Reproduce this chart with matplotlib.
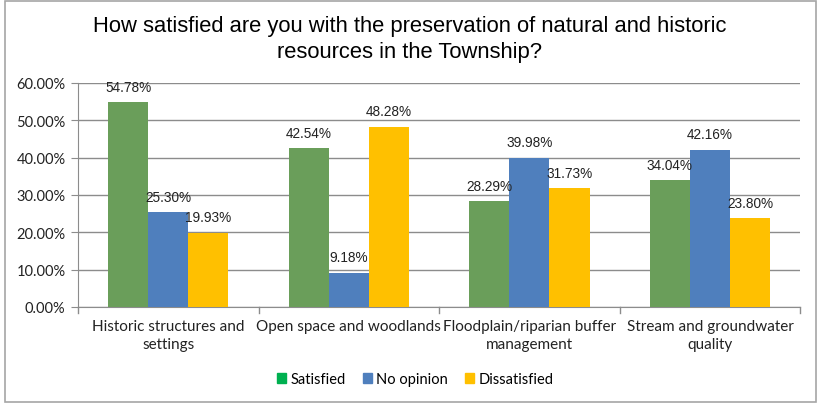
import numpy as np
import matplotlib.pyplot as plt
from matplotlib.patches import Rectangle

categories = ["Historic structures and\nsettings", "Open space and woodlands",
              "Floodplain/riparian buffer\nmanagement", "Stream and groundwater\nquality"]
satisfied = [54.78, 42.54, 28.29, 34.04]
no_opinion = [25.30, 9.18, 39.98, 42.16]
dissatisfied = [19.93, 48.28, 31.73, 23.80]
yticks = [0, 10, 20, 30, 40, 50, 60]

bar_colors = ["#6A9E5A", "#4F7FBD", "#FFC000"]
legend_colors = ["#00B050", "#4F7FBD", "#FFC000"]
names = ["Satisfied", "No opinion", "Dissatisfied"]

fig = plt.figure(figsize=(8.19, 4.06), dpi=100)
ax = fig.add_axes([0.0952, 0.2414, 0.882, 0.552])

# gray frame round the whole chart
fig.patches.append(Rectangle((0.006, 0.008), 0.990, 0.986, transform=fig.transFigure,
                             fill=False, edgecolor="#A6A6A6", linewidth=1.2))

x = np.arange(len(categories))
w = 0.222
for k, vals in enumerate([satisfied, no_opinion, dissatisfied]):
    pos = x + (k - 1) * w
    ax.bar(pos, vals, width=w, color=bar_colors[k], zorder=3)
    for px, v in zip(pos, vals):
        ax.text(px, v + 2.2, "%.2f%%" % v, ha="center", va="bottom",
                fontsize=9.8, family="Liberation Sans", color="#222222", zorder=4)

ax.set_xlim(-0.5, len(categories) - 0.5)
ax.set_ylim(0, 60)
ax.set_yticks(yticks)
ax.set_yticklabels(["%.2f%%" % t for t in yticks], family="Lato", fontsize=10.5, color="#222222")
ax.yaxis.grid(True, color="#8C8C8C", linewidth=1.0, zorder=0)
ax.tick_params(axis="y", length=5, color="#8C8C8C", pad=4)

# category labels centred, tick marks between groups
ax.set_xticks(x)
ax.set_xticklabels(categories, family="Lato", fontsize=11, color="#222222", linespacing=1.35)
ax.tick_params(axis="x", length=0, pad=9)
for b in np.arange(-0.5, len(categories), 1.0):
    ax.plot([b, b], [0, -1.6], color="#8C8C8C", linewidth=1.0, clip_on=False)

for s in ["top", "right"]:
    ax.spines[s].set_visible(False)
ax.spines["left"].set_color("#8C8C8C")
ax.spines["bottom"].set_color("#8C8C8C")

fig.text(0.5, 0.902, "How satisfied are you with the preservation of natural and historic\nresources in the Township?",
         ha="center", va="center", fontsize=15.8, family="Liberation Sans", linespacing=1.3)

handles = [Rectangle((0, 0), 1, 1, color=c) for c in legend_colors]
fig.legend(handles, names, loc="center", bbox_to_anchor=(0.507, 0.064), ncol=3, frameon=False,
           prop={"family": "Lato", "size": 10.5}, handlelength=0.6, handleheight=0.6,
           handletextpad=0.3, columnspacing=1.2)

fig.savefig("out.png", dpi=100)
